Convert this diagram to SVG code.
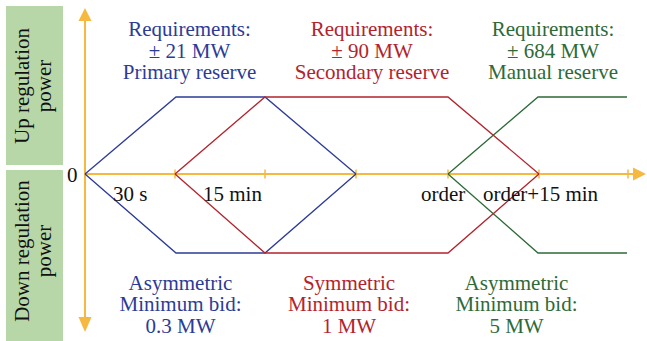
<svg xmlns="http://www.w3.org/2000/svg" width="647" height="341" viewBox="0 0 647 341">
  <style>
    text { font-family: "Liberation Serif", "Times New Roman", serif; font-size: 21px; }
    .mid { text-anchor: middle; }
    .blue { fill: #2c3b98; }
    .red { fill: #b3232d; }
    .green { fill: #2e6a38; }
    .black { fill: #111111; }
    .band { fill: #b7d7a9; }
    .axis { stroke: #f6b83f; stroke-width: 2; fill: none; }
    .tick { stroke: #f6b83f; stroke-width: 1.5; }
    .head { fill: #f6b83f; }
    .cb { stroke: #2c3b98; stroke-width: 1.3; fill: none; }
    .cr { stroke: #b3232d; stroke-width: 1.3; fill: none; }
    .cg { stroke: #2e6a38; stroke-width: 1.3; fill: none; }
  </style>

  <rect width="647" height="341" fill="#ffffff"/>

  <!-- side bands -->
  <g id="band-up">
    <rect class="band" x="6" y="6" width="57" height="159"/>
    <text class="mid black" transform="translate(29,86) rotate(-90)">Up regulation</text>
    <text class="mid black" transform="translate(50.5,86) rotate(-90)">power</text>
  </g>
  <g id="band-down">
    <rect class="band" x="6" y="170" width="57" height="171"/>
    <text class="mid black" transform="translate(29,251) rotate(-90)">Down regulation</text>
    <text class="mid black" transform="translate(50.5,251) rotate(-90)">power</text>
  </g>

  <!-- axes -->
  <g id="axes">
    <line class="axis" x1="85" y1="20" x2="85" y2="318"/>
    <polygon class="head" points="85,8 78.5,21 91.5,21"/>
    <polygon class="head" points="85,332 78.5,317 91.5,317"/>
    <line class="axis" x1="85" y1="174" x2="634" y2="174"/>
    <polygon class="head" points="646,174 633,167.5 633,180.5"/>
    <g id="ticks">
      <line class="tick" x1="175" y1="169.5" x2="175" y2="178.5"/>
      <line class="tick" x1="265" y1="169.5" x2="265" y2="178.5"/>
      <line class="tick" x1="356" y1="169.5" x2="356" y2="178.5"/>
      <line class="tick" x1="448" y1="169.5" x2="448" y2="178.5"/>
      <line class="tick" x1="539" y1="169.5" x2="539" y2="178.5"/>
      <line class="tick" x1="628" y1="169.5" x2="628" y2="178.5"/>
    </g>
  </g>

  <!-- reserve profiles -->
  <g id="connectors">
    <polyline class="cb" points="85,174 176,97 265,97 356,174"/>
    <polyline class="cb" points="85,174 176,253 265,253 356,174"/>
    <polyline class="cr" points="175,174 265,97 448,97 539,174"/>
    <polyline class="cr" points="175,174 265,253 448,253 539,174"/>
    <polyline class="cg" points="448,174 538,97 627,97"/>
    <polyline class="cg" points="448,174 538,253 627,253"/>
  </g>

  <!-- axis labels -->
  <g id="axis-labels">
    <text class="black" x="77.5" y="182" text-anchor="end">0</text>
    <text class="black" x="113" y="201">30 s</text>
    <text class="black" x="203" y="201">15 min</text>
    <text class="black" x="421" y="201">order</text>
    <text class="black" x="483" y="201">order+15 min</text>
  </g>

  <!-- requirements -->
  <g id="primary-req">
    <text class="mid blue" x="189.5" y="36">Requirements:</text>
    <text class="mid blue" x="189.5" y="57.5">± 21 MW</text>
    <text class="mid blue" x="189.5" y="79">Primary reserve</text>
  </g>
  <g id="secondary-req">
    <text class="mid red" x="372" y="36">Requirements:</text>
    <text class="mid red" x="372" y="57.5">± 90 MW</text>
    <text class="mid red" x="372" y="79">Secondary reserve</text>
  </g>
  <g id="manual-req">
    <text class="mid green" x="553" y="36">Requirements:</text>
    <text class="mid green" x="553" y="57.5">± 684 MW</text>
    <text class="mid green" x="553" y="79">Manual reserve</text>
  </g>

  <!-- minimum bids -->
  <g id="primary-bid">
    <text class="mid blue" x="180.5" y="289.5">Asymmetric</text>
    <text class="mid blue" x="180.5" y="311">Minimum bid:</text>
    <text class="mid blue" x="180.5" y="332.5">0.3 MW</text>
  </g>
  <g id="secondary-bid">
    <text class="mid red" x="349" y="289.5">Symmetric</text>
    <text class="mid red" x="349" y="311">Minimum bid:</text>
    <text class="mid red" x="349" y="332.5">1 MW</text>
  </g>
  <g id="manual-bid">
    <text class="mid green" x="516.5" y="289.5">Asymmetric</text>
    <text class="mid green" x="516.5" y="311">Minimum bid:</text>
    <text class="mid green" x="516.5" y="332.5">5 MW</text>
  </g>
</svg>
